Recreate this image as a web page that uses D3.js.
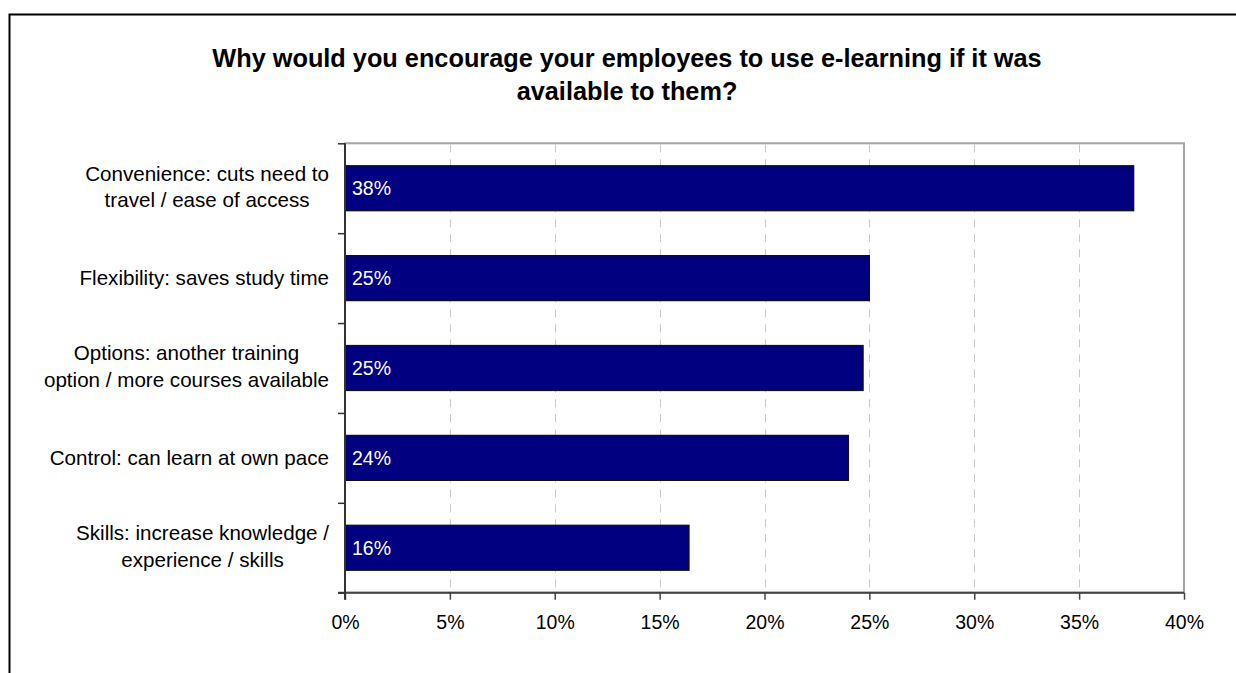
<!DOCTYPE html>
<html>
<head>
<meta charset="utf-8">
<script src="https://cdn.jsdelivr.net/npm/d3@7/dist/d3.min.js"></script>
<style>
  html, body { margin: 0; padding: 0; background: #fff; }
  svg { display: block; font-family: "Liberation Sans", Arial, sans-serif; }
</style>
</head>
<body>
<svg id="chart" width="1236" height="673"></svg>
<script>
// Survey answers: reasons employers would encourage e-learning
const titleLines = [
  "Why would you encourage your employees to use e-learning if it was",
  "available to them?"
];
const categories = [
  ["Convenience: cuts need to", "travel / ease of access"],
  ["Flexibility: saves study time"],
  ["Options: another training", "option / more courses available"],
  ["Control: can learn at own pace"],
  ["Skills: increase knowledge /", "experience / skills"]
];
const values = [0.376, 0.25, 0.247, 0.24, 0.164];
const xTicks = [0, 0.05, 0.10, 0.15, 0.20, 0.25, 0.30, 0.35, 0.40];

const svg = d3.select("#chart");
const W = 1236, H = 673;
const plot = { left: 345, right: 1184, top: 143.3, bottom: 592.7 };
const pct = d3.format(".0%");

// outer chart frame (left and top edges visible)
svg.append("path")
  .attr("d", `M9.5,${H} V14.5 H${W}`)
  .attr("fill", "none")
  .attr("stroke", "#000")
  .attr("stroke-width", 2);

// title
const title = svg.append("text")
  .attr("text-anchor", "middle")
  .attr("font-weight", "bold")
  .attr("font-size", 25.3)
  .attr("fill", "#000");
title.selectAll("tspan").data(titleLines).join("tspan")
  .attr("x", 627)
  .attr("y", (d, i) => 67 + i * 33)
  .text(d => d);

const x = d3.scaleLinear().domain([0, 0.4]).range([plot.left, plot.right]);
const ids = d3.range(categories.length);
const y = d3.scaleBand().domain(ids).range([plot.top, plot.bottom])
  .paddingInner(0.5).paddingOuter(0.25);
const yEdges = d3.scaleLinear().domain([0, categories.length]).range([plot.top, plot.bottom]);

// plot area border (top and right in grey)
svg.append("rect")
  .attr("x", plot.left).attr("y", plot.top)
  .attr("width", plot.right - plot.left).attr("height", plot.bottom - plot.top)
  .attr("fill", "#fff")
  .attr("stroke", "#a6a6a6")
  .attr("stroke-width", 2);

// dashed vertical gridlines
svg.append("g").selectAll("line")
  .data(xTicks.filter(t => t > 0 && t < 0.4))
  .join("line")
  .attr("x1", d => Math.round(x(d)) + 0.5).attr("x2", d => Math.round(x(d)) + 0.5)
  .attr("y1", plot.top + 1).attr("y2", plot.bottom)
  .attr("stroke", "#c8c8c8")
  .attr("stroke-width", 1)
  .attr("stroke-dasharray", "8,7");

// bars
svg.append("g").selectAll("rect")
  .data(values)
  .join("rect")
  .attr("x", x(0))
  .attr("y", (d, i) => y(i))
  .attr("width", d => x(d) - x(0))
  .attr("height", y.bandwidth())
  .attr("fill", "#000080")
  .attr("stroke", "#111")
  .attr("stroke-width", 1.3);

// value labels inside bars
svg.append("g").selectAll("text")
  .data(values)
  .join("text")
  .attr("x", x(0) + 7)
  .attr("y", (d, i) => y(i) + y.bandwidth() / 2)
  .attr("dy", "0.36em")
  .attr("font-size", 19.5)
  .attr("fill", "#fff")
  .text(d => pct(d));

// bottom axis
const xAxis = svg.append("g")
  .attr("transform", `translate(0,${plot.bottom})`)
  .call(d3.axisBottom(x).tickValues(xTicks).tickFormat(pct).tickSize(7).tickSizeOuter(0).tickPadding(15));
xAxis.select(".domain").attr("stroke", "#444").attr("stroke-width", 2)
  .attr("d", `M${plot.left - 7},0H${plot.right}`);
xAxis.selectAll(".tick line").attr("stroke", "#444").attr("stroke-width", 1.5);
xAxis.selectAll(".tick text")
  .attr("font-size", 19.5)
  .attr("font-family", "'Liberation Sans', Arial, sans-serif")
  .attr("fill", "#000");

// left axis with ticks at category boundaries
const yAxis = svg.append("g")
  .attr("transform", `translate(${plot.left},0)`)
  .call(d3.axisLeft(yEdges).tickValues(d3.range(categories.length + 1)).tickFormat("").tickSize(7).tickSizeOuter(0));
yAxis.select(".domain").attr("stroke", "#333").attr("stroke-width", 2)
  .attr("d", `M0,${plot.top}V${plot.bottom + 7}`);
yAxis.selectAll(".tick line").attr("stroke", "#333").attr("stroke-width", 1.5);

// category labels, lines centred within a right-aligned block
const labelRight = 329;
const lineGap = 26.7;
const catG = svg.append("g");
categories.forEach((lines, i) => {
  const cy = y(i) + y.bandwidth() / 2 - (lines.length > 1 ? 1.8 : 0.5);
  const t = catG.append("text")
    .attr("font-size", 20.6)
    .attr("fill", "#000")
    .attr("text-anchor", "middle");
  const spans = t.selectAll("tspan").data(lines).join("tspan")
    .attr("y", (d, k) => cy + (k - (lines.length - 1) / 2) * lineGap)
    .attr("dy", "0.36em")
    .text(d => d);
  let maxW = 0;
  spans.each(function () { maxW = Math.max(maxW, this.getComputedTextLength()); });
  spans.attr("x", labelRight - maxW / 2);
});
</script>
</body>
</html>
